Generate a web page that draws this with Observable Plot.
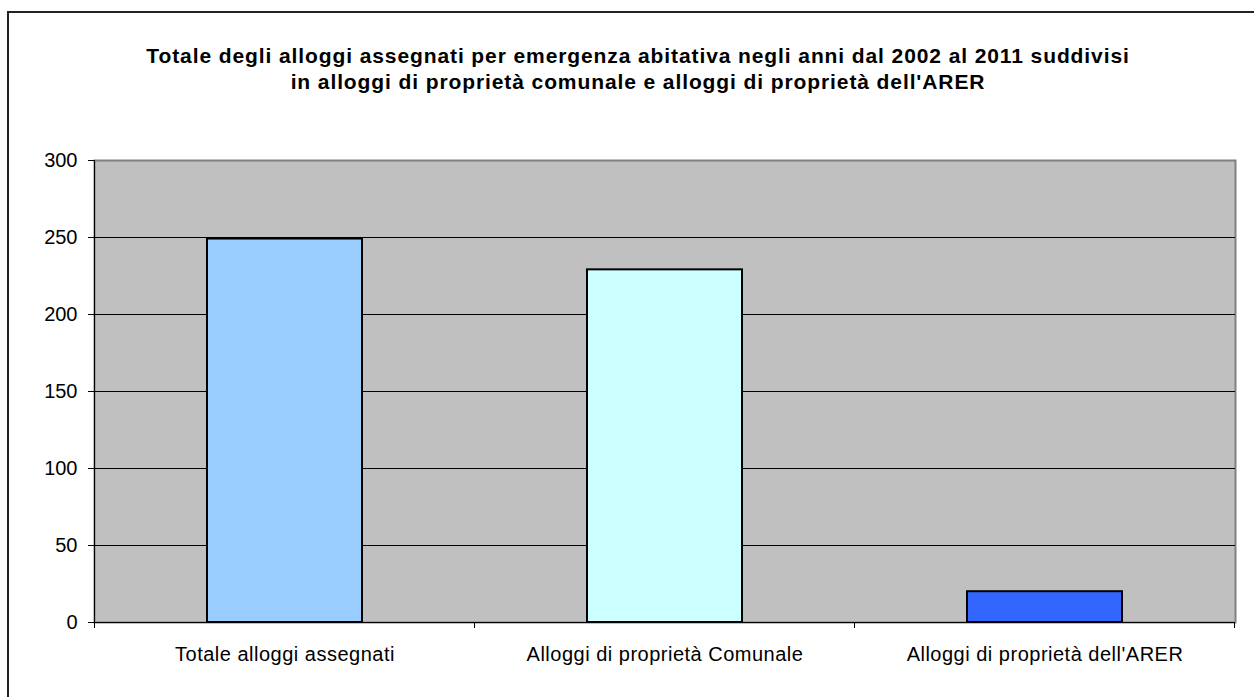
<!DOCTYPE html>
<html>
<head>
<meta charset="utf-8">
<script src="https://cdn.jsdelivr.net/npm/d3@7"></script>
<script src="https://cdn.jsdelivr.net/npm/@observablehq/plot@0.6"></script>
<style>
html, body { margin: 0; padding: 0; background: #fff; overflow: hidden; width: 1254px; height: 697px; }
#wrap { position: relative; width: 1254px; height: 697px; font-family: "Liberation Sans", Arial, sans-serif; }
#frame { position: absolute; left: 7px; top: 11px; width: 1280px; height: 730px; border: 2px solid #222; box-sizing: border-box; }
#chart { position: absolute; left: 0; top: 0; }
#title { position: absolute; left: 0; top: 43px; width: 1276px; text-align: center; font-weight: bold; font-size: 21px; line-height: 26px; letter-spacing: 0.9px; color: #000; }
#chart g[aria-label="x-axis tick label"] text { letter-spacing: 0.5px; }
</style>
</head>
<body>
<div id="wrap">
  <div id="frame"></div>
  <div id="chart"></div>
  <div id="title"></div>
</div>
<script>
const titleLines = [
  "Totale degli alloggi assegnati per emergenza abitativa negli anni dal 2002 al 2011 suddivisi",
  "in alloggi di proprietà comunale e alloggi di proprietà dell'ARER"
];
const categories = ["Totale alloggi assegnati", "Alloggi di proprietà Comunale", "Alloggi di proprietà dell'ARER"];
const values = [249, 229, 20];
const barColors = ["#99ccff", "#ccffff", "#3366ff"];
const yTicks = [0, 50, 100, 150, 200, 250, 300];

const data = categories.map((c, i) => ({category: c, value: values[i]}));

document.getElementById("title").innerHTML = titleLines.map(t => `<div>${t.replace(/&/g,"&amp;")}</div>`).join("");

// category separator ticks + left axis line, computed from the band scale
const separators = (index, scales, vals, dims) => {
  const x = scales.x, y = scales.y;
  const step = typeof x.step === "function" ? x.step() : (dims.width - dims.marginLeft - dims.marginRight) / categories.length;
  const bw = typeof x.bandwidth === "function" ? x.bandwidth() : step * 0.4;
  const off = (step - bw) / 2;
  const xs = categories.map(c => x(c) - off);
  xs.push(x(categories[categories.length - 1]) + bw + off);
  const g = d3.create("svg:g");
  const y0 = y(0);
  g.selectAll("line.sep").data(xs).join("line")
    .attr("class", "sep")
    .attr("x1", d => d).attr("x2", d => d)
    .attr("y1", y0).attr("y2", y0 + 6)
    .attr("stroke", "#000");
  g.append("line")
    .attr("x1", xs[0]).attr("x2", xs[0])
    .attr("y1", y(yTicks[yTicks.length - 1])).attr("y2", y0)
    .attr("stroke", "#000");
  return g.node();
};

const chart = Plot.plot({
  width: 1254,
  height: 697,
  marginTop: 160,
  marginBottom: 75,
  marginLeft: 94,
  marginRight: 19,
  style: {fontFamily: "'Liberation Sans', Arial, sans-serif", fontSize: "20px", color: "#000", background: "transparent", overflow: "visible"},
  x: {domain: categories, paddingInner: 0.593, paddingOuter: 0.2965, label: null},
  y: {domain: [0, 300], label: null},
  color: {domain: categories, range: barColors},
  marks: [
    Plot.frame({fill: "#c0c0c0", stroke: "#808080", strokeWidth: 2}),
    Plot.ruleY(yTicks.slice(1, -1), {stroke: "#000", strokeWidth: 1}),
    Plot.barY(data, {x: "category", y: "value", fill: "category", stroke: "#000", strokeWidth: 2}),
    Plot.ruleY([0], {stroke: "#000", strokeWidth: 1}),
    Plot.axisY({ticks: yTicks, tickSize: 6, tickPadding: 11, stroke: "#000", fill: "#000", label: null}),
    Plot.axisX({tickSize: 0, tickPadding: 24, fill: "#000", label: null}),
    separators
  ]
});
document.getElementById("chart").appendChild(chart);
</script>
</body>
</html>
